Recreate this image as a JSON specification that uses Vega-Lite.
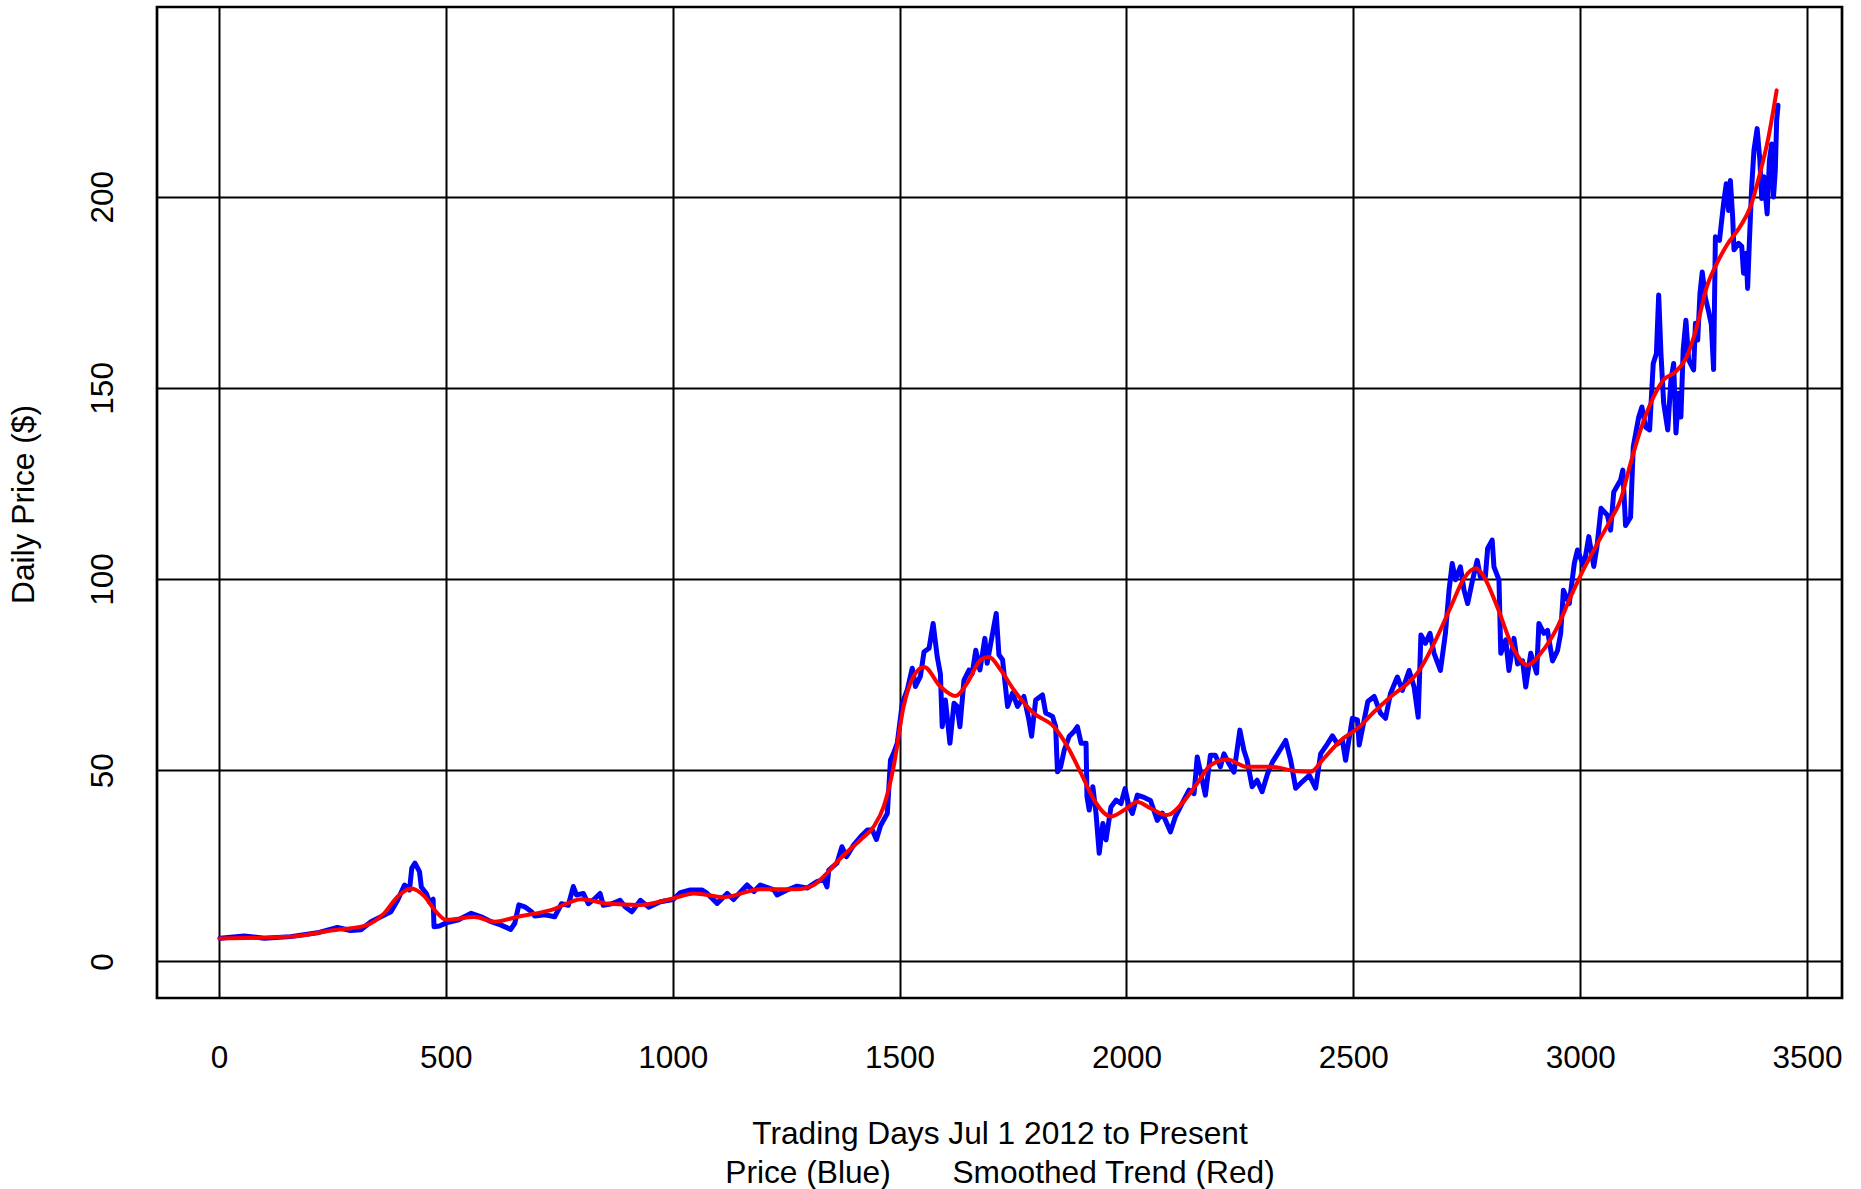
{
  "$schema": "https://vega.github.io/schema/vega-lite/v6.json",
  "width": 1685,
  "height": 991,
  "autosize": {"type": "none"},
  "padding": {"left": 157, "top": 7, "right": 19, "bottom": 191},
  "background": "white",
  "config": {
    "view": {"stroke": "black", "strokeWidth": 2.7},
    "font": "Liberation Sans",
    "axis": {
      "domain": false,
      "ticks": false,
      "tickSize": 0,
      "grid": true,
      "gridColor": "black",
      "gridOpacity": 1,
      "gridWidth": 2,
      "labelFont": "Liberation Sans",
      "labelFontSize": 31.5,
      "labelColor": "black",
      "labelFontWeight": "normal",
      "titleFont": "Liberation Sans",
      "titleFontSize": 31.7,
      "titleColor": "black",
      "titleFontWeight": "normal"
    }
  },
  "datasets": {
    "price": [
      {"day": 2, "price": 6.06}, {"day": 56, "price": 6.67}, {"day": 100, "price": 6.06}, {"day": 158, "price": 6.5}, {"day": 217, "price": 7.5}, {"day": 261, "price": 8.9}, {"day": 290, "price": 8.1}, {"day": 313, "price": 8.3}, {"day": 335, "price": 10.4}, {"day": 357, "price": 11.7}, {"day": 379, "price": 13.0}, {"day": 394, "price": 16.1}, {"day": 409, "price": 20.0}, {"day": 420, "price": 18.7}, {"day": 425, "price": 24.4}, {"day": 432, "price": 25.7}, {"day": 442, "price": 23.5}, {"day": 446, "price": 19.5}, {"day": 457, "price": 17.8}, {"day": 464, "price": 15.6}, {"day": 472, "price": 16.3}, {"day": 474, "price": 9.1}, {"day": 486, "price": 9.3}, {"day": 501, "price": 10.1}, {"day": 526, "price": 10.8}, {"day": 556, "price": 12.6}, {"day": 578, "price": 11.7}, {"day": 600, "price": 10.4}, {"day": 622, "price": 9.5}, {"day": 643, "price": 8.4}, {"day": 652, "price": 10.0}, {"day": 661, "price": 14.8}, {"day": 674, "price": 14.3}, {"day": 689, "price": 13.0}, {"day": 696, "price": 11.9}, {"day": 718, "price": 12.2}, {"day": 740, "price": 11.7}, {"day": 755, "price": 15.1}, {"day": 770, "price": 14.7}, {"day": 781, "price": 19.6}, {"day": 788, "price": 17.4}, {"day": 803, "price": 17.8}, {"day": 814, "price": 15.1}, {"day": 829, "price": 16.5}, {"day": 840, "price": 17.8}, {"day": 847, "price": 14.7}, {"day": 866, "price": 15.1}, {"day": 884, "price": 16.0}, {"day": 895, "price": 14.3}, {"day": 910, "price": 13.0}, {"day": 929, "price": 16.0}, {"day": 947, "price": 14.2}, {"day": 973, "price": 15.6},
      {"day": 1001, "price": 16.2}, {"day": 1017, "price": 18.0}, {"day": 1039, "price": 18.7}, {"day": 1065, "price": 18.7}, {"day": 1076, "price": 17.8}, {"day": 1098, "price": 15.2}, {"day": 1120, "price": 17.8}, {"day": 1134, "price": 16.2}, {"day": 1164, "price": 20.0}, {"day": 1179, "price": 18.3}, {"day": 1193, "price": 20.0}, {"day": 1223, "price": 18.7}, {"day": 1230, "price": 17.4}, {"day": 1252, "price": 18.7}, {"day": 1274, "price": 19.7}, {"day": 1296, "price": 19.2}, {"day": 1318, "price": 20.9}, {"day": 1333, "price": 21.5}, {"day": 1340, "price": 19.5}, {"day": 1344, "price": 23.9}, {"day": 1362, "price": 25.7}, {"day": 1373, "price": 30.0}, {"day": 1383, "price": 27.4}, {"day": 1399, "price": 30.5}, {"day": 1414, "price": 32.6}, {"day": 1429, "price": 34.4}, {"day": 1440, "price": 34.4}, {"day": 1449, "price": 31.9}, {"day": 1458, "price": 35.5},
      {"day": 1473, "price": 38.7}, {"day": 1480, "price": 52.7}, {"day": 1487, "price": 54.5}, {"day": 1495, "price": 57.1}, {"day": 1506, "price": 67.5}, {"day": 1517, "price": 71.0}, {"day": 1528, "price": 76.7}, {"day": 1535, "price": 71.9}, {"day": 1546, "price": 74.6}, {"day": 1554, "price": 81.0}, {"day": 1565, "price": 81.9}, {"day": 1574, "price": 88.4}, {"day": 1583, "price": 79.7}, {"day": 1590, "price": 75.2}, {"day": 1594, "price": 61.4}, {"day": 1601, "price": 68.4}, {"day": 1611, "price": 57.1}, {"day": 1620, "price": 67.5}, {"day": 1627, "price": 66.7}, {"day": 1633, "price": 61.4}, {"day": 1642, "price": 73.6}, {"day": 1653, "price": 76.2}, {"day": 1660, "price": 75.2}, {"day": 1668, "price": 81.4}, {"day": 1677, "price": 76.2}, {"day": 1688, "price": 84.5}, {"day": 1693, "price": 78.0}, {"day": 1705, "price": 85.8}, {"day": 1713, "price": 91.0}, {"day": 1719, "price": 80.2}, {"day": 1727, "price": 78.9}, {"day": 1738, "price": 66.7}, {"day": 1749, "price": 70.2}, {"day": 1760, "price": 66.7}, {"day": 1774, "price": 69.3}, {"day": 1785, "price": 63.2}, {"day": 1791, "price": 58.9}, {"day": 1800, "price": 68.4}, {"day": 1815, "price": 69.7}, {"day": 1822, "price": 65.0}, {"day": 1837, "price": 64.1}, {"day": 1844, "price": 61.4}, {"day": 1848, "price": 49.6}, {"day": 1855, "price": 50.9}, {"day": 1863, "price": 55.3}, {"day": 1874, "price": 58.9}, {"day": 1885, "price": 60.2}, {"day": 1892, "price": 61.4}, {"day": 1900, "price": 57.1}, {"day": 1911, "price": 57.1}, {"day": 1913, "price": 43.1}, {"day": 1918, "price": 39.6}, {"day": 1926, "price": 45.7}, {"day": 1933, "price": 38.7}, {"day": 1940, "price": 28.3}, {"day": 1948, "price": 36.1}, {"day": 1955, "price": 31.8}, {"day": 1966, "price": 40.4}, {"day": 1977, "price": 42.2}, {"day": 1988, "price": 41.3}, {"day": 1997, "price": 45.2}, {"day": 2006, "price": 40.4}, {"day": 2013, "price": 38.7}, {"day": 2024, "price": 43.5}, {"day": 2039, "price": 42.9}, {"day": 2053, "price": 42.1}, {"day": 2068, "price": 36.9}, {"day": 2079, "price": 38.8}, {"day": 2097, "price": 33.9}, {"day": 2108, "price": 37.9}, {"day": 2123, "price": 41.4}, {"day": 2138, "price": 44.8}, {"day": 2149, "price": 43.9}, {"day": 2156, "price": 53.5}, {"day": 2167, "price": 47.4}, {"day": 2174, "price": 43.5}, {"day": 2185, "price": 53.9}, {"day": 2196, "price": 53.9}, {"day": 2207, "price": 50.9}, {"day": 2215, "price": 54.3}, {"day": 2226, "price": 51.7}, {"day": 2237, "price": 49.5}, {"day": 2250, "price": 60.5}, {"day": 2259, "price": 55.2}, {"day": 2266, "price": 52.6}, {"day": 2277, "price": 45.7}, {"day": 2288, "price": 47.4}, {"day": 2299, "price": 44.4}, {"day": 2311, "price": 49.1}, {"day": 2322, "price": 52.2}, {"day": 2333, "price": 54.3}, {"day": 2351, "price": 57.8}, {"day": 2362, "price": 52.6}, {"day": 2373, "price": 45.3}, {"day": 2384, "price": 46.6}, {"day": 2403, "price": 48.7}, {"day": 2417, "price": 45.3}, {"day": 2428, "price": 54.3}, {"day": 2443, "price": 56.9}, {"day": 2454, "price": 59.0}, {"day": 2465, "price": 56.9}, {"day": 2476, "price": 57.8}, {"day": 2483, "price": 52.6}, {"day": 2498, "price": 63.6}, {"day": 2509, "price": 63.2}, {"day": 2513, "price": 56.6}, {"day": 2532, "price": 68.0}, {"day": 2546, "price": 69.3}, {"day": 2560, "price": 64.9}, {"day": 2571, "price": 63.6}, {"day": 2582, "price": 70.1}, {"day": 2597, "price": 74.4}, {"day": 2608, "price": 70.9}, {"day": 2623, "price": 76.1}, {"day": 2634, "price": 71.8}, {"day": 2643, "price": 63.9}, {"day": 2649, "price": 85.4}, {"day": 2659, "price": 83.2}, {"day": 2669, "price": 85.8}, {"day": 2678, "price": 80.6}, {"day": 2692, "price": 76.1}, {"day": 2703, "price": 85.8}, {"day": 2711, "price": 97.1}, {"day": 2718, "price": 104.1}, {"day": 2725, "price": 99.8}, {"day": 2736, "price": 103.2}, {"day": 2744, "price": 97.1}, {"day": 2752, "price": 93.6}, {"day": 2762, "price": 99.3}, {"day": 2773, "price": 104.9}, {"day": 2780, "price": 100.6}, {"day": 2791, "price": 100.6}, {"day": 2796, "price": 108.0}, {"day": 2806, "price": 110.2}, {"day": 2810, "price": 103.2}, {"day": 2821, "price": 99.8}, {"day": 2825, "price": 80.6}, {"day": 2836, "price": 84.1}, {"day": 2843, "price": 76.1}, {"day": 2854, "price": 84.5}, {"day": 2862, "price": 77.8}, {"day": 2873, "price": 78.6}, {"day": 2880, "price": 71.8}, {"day": 2891, "price": 80.6}, {"day": 2904, "price": 75.4}, {"day": 2909, "price": 88.4}, {"day": 2920, "price": 85.8}, {"day": 2928, "price": 86.6}, {"day": 2939, "price": 78.6}, {"day": 2950, "price": 81.3}, {"day": 2957, "price": 85.8}, {"day": 2963, "price": 97.1}, {"day": 2976, "price": 93.6}, {"day": 2987, "price": 104.1}, {"day": 2994, "price": 107.6}, {"day": 3008, "price": 103.3}, {"day": 3019, "price": 111.1}, {"day": 3030, "price": 103.3}, {"day": 3037, "price": 108.5}, {"day": 3046, "price": 118.5}, {"day": 3060, "price": 116.7}, {"day": 3067, "price": 112.8}, {"day": 3074, "price": 122.8}, {"day": 3089, "price": 125.9}, {"day": 3094, "price": 128.5}, {"day": 3100, "price": 114.0}, {"day": 3111, "price": 116.2}, {"day": 3117, "price": 134.6}, {"day": 3129, "price": 142.4}, {"day": 3136, "price": 145.0}, {"day": 3144, "price": 139.8}, {"day": 3153, "price": 139.0}, {"day": 3161, "price": 156.4}, {"day": 3168, "price": 159.0}, {"day": 3173, "price": 174.3}, {"day": 3178, "price": 159.0}, {"day": 3184, "price": 146.0}, {"day": 3193, "price": 139.0}, {"day": 3200, "price": 152.1}, {"day": 3206, "price": 156.4}, {"day": 3211, "price": 138.2}, {"day": 3217, "price": 148.6}, {"day": 3222, "price": 142.4}, {"day": 3227, "price": 159.9}, {"day": 3233, "price": 167.7}, {"day": 3239, "price": 157.3}, {"day": 3250, "price": 154.7}, {"day": 3254, "price": 166.9}, {"day": 3259, "price": 162.5}, {"day": 3264, "price": 174.7}, {"day": 3269, "price": 180.3}, {"day": 3276, "price": 173.5}, {"day": 3283, "price": 170.0}, {"day": 3289, "price": 166.6}, {"day": 3294, "price": 154.8}, {"day": 3298, "price": 189.5}, {"day": 3307, "price": 188.6}, {"day": 3316, "price": 198.2}, {"day": 3322, "price": 203.4}, {"day": 3327, "price": 196.4}, {"day": 3331, "price": 204.2}, {"day": 3336, "price": 194.7}, {"day": 3339, "price": 186.1}, {"day": 3349, "price": 187.8}, {"day": 3356, "price": 187.0}, {"day": 3360, "price": 180.0}, {"day": 3366, "price": 185.2}, {"day": 3369, "price": 176.0}, {"day": 3373, "price": 188.6}, {"day": 3378, "price": 202.6}, {"day": 3383, "price": 212.2}, {"day": 3390, "price": 217.8}, {"day": 3396, "price": 209.5}, {"day": 3400, "price": 199.5}, {"day": 3405, "price": 205.2}, {"day": 3412, "price": 195.5}, {"day": 3417, "price": 209.5}, {"day": 3422, "price": 213.8}, {"day": 3426, "price": 199.9}, {"day": 3430, "price": 206.9}, {"day": 3433, "price": 220.0}, {"day": 3436, "price": 223.9}
    ],
    "trend": [
      {"day": 2, "price": 6.0}, {"day": 158, "price": 6.5}, {"day": 247, "price": 8.1}, {"day": 320, "price": 9.3}, {"day": 364, "price": 12.6}, {"day": 394, "price": 17.0}, {"day": 423, "price": 19.1}, {"day": 453, "price": 17.0}, {"day": 475, "price": 13.5}, {"day": 501, "price": 10.9}, {"day": 563, "price": 11.6}, {"day": 607, "price": 10.4}, {"day": 659, "price": 11.7}, {"day": 733, "price": 13.5}, {"day": 799, "price": 16.3}, {"day": 858, "price": 15.1}, {"day": 929, "price": 14.8}, {"day": 1001, "price": 16.5}, {"day": 1047, "price": 17.8}, {"day": 1113, "price": 16.8}, {"day": 1193, "price": 18.9}, {"day": 1274, "price": 18.9}, {"day": 1311, "price": 20.0}, {"day": 1340, "price": 23.1}, {"day": 1370, "price": 27.0}, {"day": 1414, "price": 31.8}, {"day": 1443, "price": 35.3}, {"day": 1465, "price": 40.5}, {"day": 1487, "price": 51.0}, {"day": 1509, "price": 66.7}, {"day": 1531, "price": 74.6}, {"day": 1554, "price": 77.0}, {"day": 1590, "price": 71.9}, {"day": 1623, "price": 69.4}, {"day": 1649, "price": 72.8}, {"day": 1679, "price": 78.9}, {"day": 1697, "price": 79.6}, {"day": 1723, "price": 76.2}, {"day": 1752, "price": 71.0}, {"day": 1796, "price": 64.9}, {"day": 1840, "price": 61.4}, {"day": 1870, "price": 56.2}, {"day": 1900, "price": 49.2}, {"day": 1929, "price": 42.2}, {"day": 1966, "price": 37.9}, {"day": 1995, "price": 39.6}, {"day": 2024, "price": 41.7}, {"day": 2054, "price": 40.0}, {"day": 2090, "price": 38.3}, {"day": 2123, "price": 41.4}, {"day": 2156, "price": 46.6}, {"day": 2185, "price": 51.3}, {"day": 2222, "price": 52.8}, {"day": 2266, "price": 50.9}, {"day": 2318, "price": 50.9}, {"day": 2369, "price": 49.9}, {"day": 2406, "price": 49.6}, {"day": 2435, "price": 53.1}, {"day": 2472, "price": 57.8}, {"day": 2509, "price": 60.9}, {"day": 2546, "price": 65.3}, {"day": 2583, "price": 69.3}, {"day": 2624, "price": 73.2}, {"day": 2641, "price": 75.4}, {"day": 2678, "price": 83.2}, {"day": 2715, "price": 92.8}, {"day": 2744, "price": 100.2}, {"day": 2770, "price": 102.8}, {"day": 2788, "price": 100.6}, {"day": 2817, "price": 92.8}, {"day": 2854, "price": 81.5}, {"day": 2884, "price": 77.5}, {"day": 2913, "price": 80.6}, {"day": 2950, "price": 87.5}, {"day": 2979, "price": 95.4}, {"day": 3001, "price": 101.0}, {"day": 3038, "price": 109.3}, {"day": 3067, "price": 115.5}, {"day": 3089, "price": 120.7}, {"day": 3111, "price": 130.3}, {"day": 3133, "price": 139.0}, {"day": 3162, "price": 147.7}, {"day": 3184, "price": 152.1}, {"day": 3210, "price": 154.2}, {"day": 3235, "price": 158.2}, {"day": 3257, "price": 166.0}, {"day": 3279, "price": 176.4}, {"day": 3301, "price": 182.5}, {"day": 3323, "price": 187.3}, {"day": 3352, "price": 192.1}, {"day": 3375, "price": 197.3}, {"day": 3396, "price": 206.0}, {"day": 3415, "price": 215.6}, {"day": 3433, "price": 227.8}
    ]
  },
  "layer": [
    {
      "data": {"name": "price"},
      "mark": {"type": "line", "color": "#0000FF", "strokeWidth": 5, "strokeJoin": "round", "strokeCap": "round"},
      "encoding": {
        "x": {
          "field": "day", "type": "quantitative",
          "scale": {"domain": [-136.5, 3577], "nice": false, "zero": false},
          "axis": {
            "values": [0, 500, 1000, 1500, 2000, 2500, 3000, 3500],
            "format": "d",
            "labelBaseline": "alphabetic",
            "labelPadding": 69,
            "labelAlign": "center",
            "title": ["Trading Days Jul 1 2012 to Present", "Price (Blue)\u00a0\u00a0\u00a0\u00a0\u00a0\u00a0\u00a0Smoothed Trend (Red)"],
            "titleLineHeight": 39,
            "titleBaseline": "alphabetic",
            "titleAlign": "center",
            "titleX": 842.5,
            "titleY": 145
          }
        },
        "y": {
          "field": "price", "type": "quantitative",
          "scale": {"domain": [-9.55, 249.6], "nice": false, "zero": false},
          "axis": {
            "values": [0, 50, 100, 150, 200],
            "format": "d",
            "labelAngle": 270,
            "labelAlign": "center",
            "labelBaseline": "alphabetic",
            "labelPadding": 45,
            "title": "Daily Price ($)",
            "titleAngle": 270,
            "titleAlign": "center",
            "titleBaseline": "alphabetic",
            "titleX": -124,
            "titleY": 497
          }
        }
      }
    },
    {
      "data": {"name": "trend"},
      "mark": {"type": "line", "color": "#FF0000", "strokeWidth": 4, "interpolate": "monotone", "strokeCap": "round"},
      "encoding": {
        "x": {"field": "day", "type": "quantitative"},
        "y": {"field": "price", "type": "quantitative"}
      }
    }
  ]
}
